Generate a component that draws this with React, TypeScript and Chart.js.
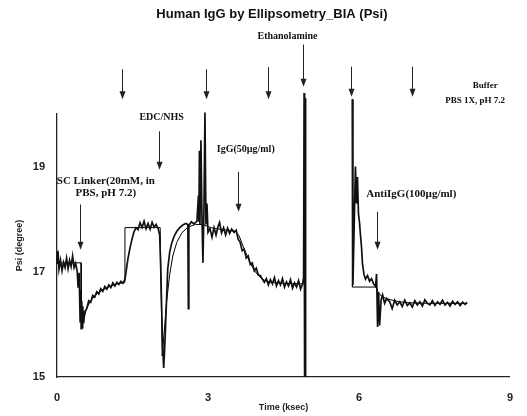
import React, { useEffect, useRef } from "react";
import { Chart, registerables } from "chart.js";
Chart.register(...registerables);

// Measured Psi trace (ksec, degree)
const measuredTime = [
  0.0, 0.02, 0.04, 0.07, 0.1, 0.13, 0.16, 0.19, 0.22, 0.25, 0.28, 0.31, 0.34, 0.37, 0.4, 0.42, 0.44, 0.46, 0.47, 0.48,
  0.49, 0.5, 0.51, 0.53, 0.55, 0.59, 0.63, 0.67, 0.71, 0.75, 0.79, 0.83, 0.87, 0.91, 0.95, 0.99, 1.03, 1.07, 1.11, 1.15,
  1.19, 1.23, 1.27, 1.31, 1.35, 1.38, 1.41, 1.45, 1.49, 1.53, 1.57, 1.61, 1.65, 1.69, 1.73, 1.77, 1.81, 1.85, 1.89, 1.93,
  1.97, 2.01, 2.04, 2.06, 2.08, 2.1, 2.12, 2.14, 2.16, 2.18, 2.2, 2.24, 2.28, 2.33, 2.38, 2.44, 2.5, 2.56, 2.6, 2.61,
  2.62, 2.67, 2.72, 2.78, 2.81, 2.82, 2.83, 2.84, 2.86, 2.88, 2.9, 2.92, 2.94, 2.96, 2.98, 3.0, 3.04, 3.08, 3.12, 3.16,
  3.2, 3.23, 3.27, 3.31, 3.35, 3.39, 3.43, 3.47, 3.52, 3.56, 3.6, 3.64, 3.68, 3.72, 3.76, 3.8, 3.84, 3.88, 3.92, 3.96,
  4.0, 4.04, 4.08, 4.12, 4.16, 4.2, 4.24, 4.28, 4.32, 4.36, 4.4, 4.44, 4.48, 4.52, 4.56, 4.6, 4.64, 4.68, 4.72, 4.76,
  4.8, 4.84, 4.88, 4.9, 4.91, 4.92, 4.93, 4.94, 5.4, 5.87, 5.88, 5.93, 5.95, 5.97, 5.99, 6.01, 6.03, 6.05, 6.07, 6.1,
  6.13, 6.17, 6.21, 6.25, 6.29, 6.33, 6.35, 6.37, 6.39, 6.41, 6.44, 6.47, 6.51, 6.55, 6.61, 6.66, 6.71, 6.76, 6.81, 6.86,
  6.91, 6.96, 7.01, 7.06, 7.11, 7.16, 7.21, 7.26, 7.31, 7.36, 7.41, 7.46, 7.51, 7.56, 7.61, 7.66, 7.71, 7.76, 7.81, 7.86,
  7.91, 7.96, 8.01, 8.06, 8.11, 8.15,
];
const measuredPsi = [
  17.15, 17.4, 17.05, 17.22, 17.02, 17.18, 17.08, 17.26, 17.06, 17.22, 17.1, 17.3, 17.08, 17.16, 17.02, 16.7, 16.98, 16.05, 16.65, 15.92,
  16.45, 15.94, 16.35, 16.02, 16.24, 16.3, 16.45, 16.42, 16.55, 16.52, 16.62, 16.58, 16.68, 16.63, 16.72, 16.67, 16.75, 16.7, 16.79, 16.73,
  16.8, 16.76, 16.82, 16.78, 16.86, 17.05, 17.25, 17.45, 17.62, 17.76, 17.84, 17.8, 17.93, 17.84, 17.96, 17.82, 17.92, 17.81, 17.94, 17.85,
  17.9, 17.82, 17.7, 17.1, 16.3, 15.55, 15.17, 15.55, 16.05, 16.55, 17.05, 17.38, 17.55, 17.68, 17.77, 17.84, 17.89, 17.92, 17.9, 16.3,
  17.88, 17.95, 17.91, 17.96, 18.45, 17.95, 19.3, 17.9, 19.5, 18.05, 17.17, 18.2, 20.03, 17.9, 18.3, 17.75, 17.82, 17.66, 17.84, 17.7,
  17.86, 17.94, 17.74, 17.84, 17.7, 17.83, 17.73, 17.81, 17.75, 17.79, 17.62, 17.56, 17.4, 17.43, 17.26, 17.3, 17.14, 17.17, 17.02, 17.07,
  16.94, 16.93, 16.86, 16.8, 16.87, 16.75, 16.85, 16.77, 16.89, 16.73, 16.83, 16.75, 16.87, 16.71, 16.81, 16.73, 16.85, 16.69, 16.79, 16.71,
  16.83, 16.67, 16.77, 16.9, 20.4, 15.0, 20.3, 15.0, null, 20.28, 16.75, 19.0, 18.3, 18.8, 18.1, 17.95, 17.7, 17.48, 17.15, 16.95,
  16.86, 16.93, 16.82, 16.87, 16.77, 16.72, 16.96, 15.95, 16.62, 15.98, 16.46, 16.56, 16.4, 16.49, 16.43, 16.3, 16.46, 16.37, 16.43, 16.34,
  16.46, 16.36, 16.41, 16.33, 16.45, 16.37, 16.43, 16.35, 16.47, 16.4, 16.37, 16.45, 16.36, 16.43, 16.38, 16.46, 16.37, 16.42, 16.35, 16.44,
  16.38, 16.43, 16.36, 16.42, 16.38, 16.42,
];

// Fitted / model trace
const fitTime = [
  0.0, 0.48, 0.48, 0.53, 0.58, 0.65, 0.75, 0.88, 1.0, 1.15, 1.35, 1.35, 2.05, 2.09, 2.13, 2.18, 2.24, 2.3, 2.38, 2.48,
  2.6, 2.75, 2.9, 3.05, 3.3, 3.55, 3.62, 3.7, 3.78, 3.86, 3.94, 4.02, 4.12, 4.25, 4.5, 4.9, 5.4, 5.87, 5.87, 6.35,
  6.37, 6.42, 6.5, 6.62, 6.8, 7.0, 7.4, 8.15,
];
const fitPsi = [
  17.17, 17.17, 16.1, 16.1, 16.28, 16.42, 16.55, 16.64, 16.7, 16.76, 16.8, 17.84, 17.84, 15.4, 15.85, 16.45, 16.95, 17.3, 17.56, 17.74,
  17.85, 17.9, 17.9, 17.84, 17.8, 17.77, 17.68, 17.48, 17.3, 17.13, 17.0, 16.91, 16.84, 16.8, 16.78, 16.77, null, 20.28, 16.71, 16.71,
  16.62, 16.56, 16.51, 16.47, 16.43, 16.41, 16.4, 16.4,
];

const xTicks = [0, 3, 6, 9];
const yTicks = [15, 17, 19];

// Text annotations anchored in data coordinates
const labelTexts = [
  "Human IgG by Ellipsometry_BIA (Psi)",
  "Ethanolamine",
  "EDC/NHS",
  "SC Linker(20mM, in",
  "PBS, pH 7.2)",
  "IgG(50µg/ml)",
  "AntiIgG(100µg/ml)",
  "Buffer",
  "PBS 1X, pH 7.2",
];
const labelTime = [4.27, 4.58, 2.08, 0.97, 0.97, 3.75, 7.04, 8.51, 8.31];
const labelPsi = [21.9, 21.48, 19.93, 18.73, 18.5, 19.32, 18.47, 20.54, 20.26];

// Injection arrows
const arrowTime = [1.29, 2.96, 4.19, 4.88, 5.85, 7.06, 0.46, 2.02, 3.59, 6.35];
const arrowFrom = [20.85, 20.85, 20.89, 21.32, 20.9, 20.9, 18.28, 19.67, 18.9, 18.14];
const arrowTo = [20.28, 20.28, 20.28, 20.52, 20.33, 20.33, 17.42, 18.94, 18.14, 17.42];

const toPoints = (xs: number[], ys: (number | null)[]) => xs.map((x, i) => ({ x, y: ys[i] }));

const labelFonts = [
  "bold 13px 'Liberation Sans', Arial, sans-serif",
  "bold 10px 'Liberation Serif', serif",
  "bold 10px 'Liberation Serif', serif",
  "bold 11px 'Liberation Serif', serif",
  "bold 11px 'Liberation Serif', serif",
  "bold 10px 'Liberation Serif', serif",
  "bold 11px 'Liberation Serif', serif",
  "bold 9px 'Liberation Serif', serif",
  "bold 9px 'Liberation Serif', serif",
];

const annotatePlugin = {
  id: "annotate",
  afterDatasetsDraw(chart: any) {
    const { ctx, scales } = chart;
    const xs = scales.x;
    const ys = scales.y;
    ctx.save();
    ctx.strokeStyle = "#222";
    ctx.fillStyle = "#222";
    ctx.lineWidth = 1;
    arrowTime.forEach((t, i) => {
      const px = Math.round(xs.getPixelForValue(t)) + 0.5;
      const p0 = ys.getPixelForValue(arrowFrom[i]);
      const p1 = ys.getPixelForValue(arrowTo[i]);
      ctx.beginPath();
      ctx.moveTo(px, p0);
      ctx.lineTo(px, p1 - 7);
      ctx.stroke();
      ctx.beginPath();
      ctx.moveTo(px - 3, p1 - 8);
      ctx.lineTo(px + 3, p1 - 8);
      ctx.lineTo(px, p1);
      ctx.closePath();
      ctx.fill();
    });
    ctx.textAlign = "center";
    ctx.textBaseline = "middle";
    ctx.fillStyle = "#111";
    labelTexts.forEach((txt, i) => {
      ctx.font = labelFonts[i];
      ctx.fillText(txt, xs.getPixelForValue(labelTime[i]), ys.getPixelForValue(labelPsi[i]));
    });
    ctx.restore();
  },
};

export default function App() {
  const ref = useRef<HTMLCanvasElement | null>(null);
  useEffect(() => {
    if (!ref.current) return;
    const chart = new Chart(ref.current, {
      type: "line",
      data: {
        datasets: [
          {
            label: "Measured",
            data: toPoints(measuredTime, measuredPsi) as any,
            borderColor: "#111",
            borderWidth: 1.7,
            pointRadius: 0,
            spanGaps: false,
            clip: false as any,
            tension: 0,
          },
          {
            label: "Fit",
            data: toPoints(fitTime, fitPsi) as any,
            borderColor: "#000",
            borderWidth: 1,
            pointRadius: 0,
            spanGaps: false,
            clip: false as any,
            tension: 0,
          },
        ],
      },
      options: {
        animation: false,
        responsive: true,
        maintainAspectRatio: false,
        layout: { padding: { top: 114, right: 16.5, left: 0, bottom: 0 } },
        plugins: {
          legend: { display: false },
          title: { display: false },
          tooltip: { enabled: false },
        },
        scales: {
          x: {
            type: "linear",
            min: 0,
            max: 9,
            afterBuildTicks: (s: any) => {
              s.ticks = xTicks.map((v) => ({ value: v }));
            },
            afterFit: (s: any) => {
              s.height = 39;
            },
            grid: { display: false, drawTicks: false },
            border: { display: true, color: "#222", width: 1.3 },
            ticks: {
              padding: 14,
              color: "#222",
              font: { family: "'Liberation Sans', Arial, sans-serif", size: 11, weight: "bold" },
            },
            title: {
              display: true,
              text: "Time (ksec)",
              color: "#222",
              font: { family: "'Liberation Sans', Arial, sans-serif", size: 9, weight: "bold" },
              padding: { top: 0, bottom: 3 },
            },
          },
          y: {
            type: "linear",
            min: 15,
            max: 20,
            afterBuildTicks: (s: any) => {
              s.ticks = yTicks.map((v) => ({ value: v }));
            },
            afterFit: (s: any) => {
              s.width = 57;
            },
            grid: { display: false, drawTicks: false },
            border: { display: true, color: "#222", width: 1.3 },
            ticks: {
              padding: 12,
              color: "#222",
              font: { family: "'Liberation Sans', Arial, sans-serif", size: 11, weight: "bold" },
            },
            title: {
              display: true,
              text: "Psi (degree)",
              color: "#222",
              font: { family: "'Liberation Sans', Arial, sans-serif", size: 9, weight: "bold" },
              padding: { top: 14, bottom: 0 },
            },
          },
        },
      },
      plugins: [annotatePlugin],
    });
    return () => chart.destroy();
  }, []);
  return (
    <div style={{ position: "absolute", left: 0, top: 0, width: 527, height: 416, background: "#fff" }}>
      <canvas ref={ref} />
    </div>
  );
}
